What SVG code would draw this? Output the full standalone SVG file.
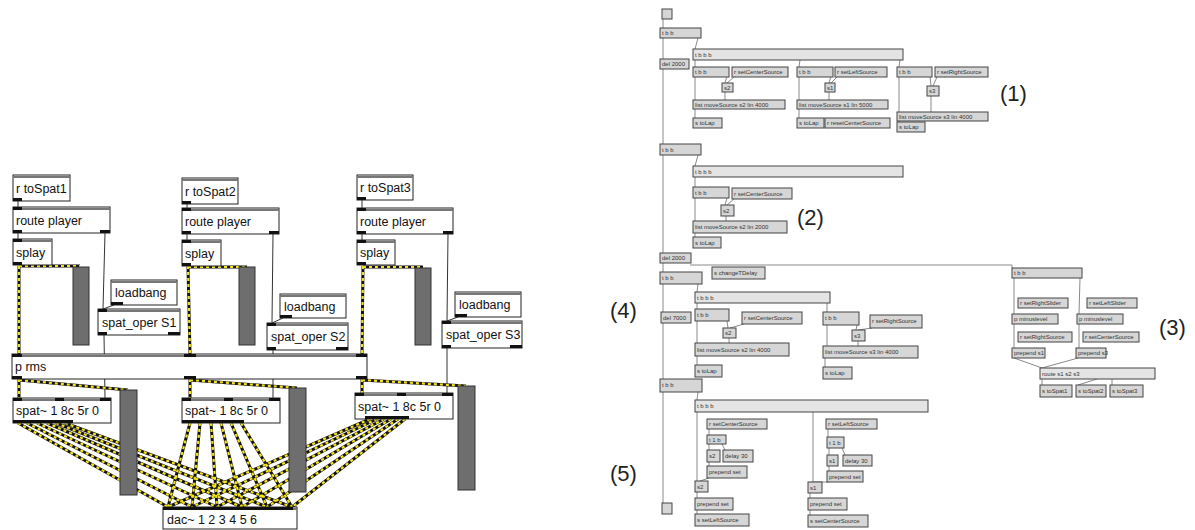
<svg xmlns="http://www.w3.org/2000/svg" width="1195" height="530" viewBox="0 0 1195 530">
<style>
.mx rect.b{fill:#fff;stroke:#222;stroke-width:1}
.mx line.t{stroke:#777;stroke-width:2}
.io{fill:#111}
.mx text{font-family:"Liberation Sans",Arial,sans-serif;font-size:12.5px;fill:#111}
.bar{fill:#6e6e6e;stroke:#333;stroke-width:1}
.sb{fill:none;stroke:#111;stroke-width:3}
.sy{fill:none;stroke:#f5e31a;stroke-width:2.2;stroke-dasharray:3 3}
.cl{fill:none;stroke:#333;stroke-width:1}
.rc{fill:none;stroke:#8a8a8a;stroke-width:1}
.rb rect{fill:#d6d6d6;stroke:#444;stroke-width:1}
.rb rect.w{fill:#e4e4e4}
.rb text{font-family:"Liberation Sans",Arial,sans-serif;font-size:6px;fill:#333}
.lab{font-family:"Liberation Sans",Arial,sans-serif;font-size:22px;fill:#222}
</style>
<rect width="1195" height="530" fill="#fff"/>

<!-- connectors -->
<g id="connectors">
 <path class="cl" d="M18 201V207 M18 233V239 M105 233L103 309 M114 305L103 309 M104 335L105 398"/>
 <path class="cl" d="M187 204V208 M187 234V240 M273 234L272 323 M283 318L272 323 M273 350V398"/>
 <path class="cl" d="M362 200V208 M362 234V240 M448 234L447 321 M458 317L447 321 M447 348V393"/>
 <g id="sig">
  <path class="sb" d="M19 266V354 M19 266H80 M188 266L190 354 M188 267H247 M363 266L362 354 M363 267H423 M19 379V398 M19 380L128 390 M190 379V398 M190 380L297 388 M362 379V393 M362 380L466 386"/>
  <path class="sb" d="M18 423L168 507 M27 423L192 507 M37 423L217 507 M47 423L242 507 M56 423L267 507 M65 423L292 507"/>
  <path class="sb" d="M190 423L168 507 M200 423L192 507 M211 423L217 507 M221 423L242 507 M231 423L267 507 M241 423L292 507"/>
  <path class="sb" d="M370 419L168 507 M377 419L192 507 M384 419L217 507 M391 419L242 507 M398 419L267 507 M405 419L292 507"/>
  <path class="sy" d="M19 266V354 M19 266H80 M188 266L190 354 M188 267H247 M363 266L362 354 M363 267H423 M19 379V398 M19 380L128 390 M190 379V398 M190 380L297 388 M362 379V393 M362 380L466 386"/>
  <path class="sy" d="M18 423L168 507 M27 423L192 507 M37 423L217 507 M47 423L242 507 M56 423L267 507 M65 423L292 507"/>
  <path class="sy" d="M190 423L168 507 M200 423L192 507 M211 423L217 507 M221 423L242 507 M231 423L267 507 M241 423L292 507"/>
  <path class="sy" d="M370 419L168 507 M377 419L192 507 M384 419L217 507 M391 419L242 507 M398 419L267 507 M405 419L292 507"/>
 </g>
 <path class="rc" d="M663 19V503"/>
 <path class="rc" d="M698 38L695 49 M695 60V67 M800 60L799 67 M900 60L899 67 M695 76V100 M727 76L725 83 M734 77L727 83 M725 92L725 100 M695 109V118 M799 76V100 M831 76L829 83 M837 77L831 83 M829 92V100 M799 109V118 M899 76V112 M930 76L931 86 M937 77L933 86 M931 96V112 M899 121V122"/>
 <path class="rc" d="M698 155L695 166 M695 177V187 M695 198V221 M727 198L725 205 M734 199L727 205 M726 216V221 M695 233V237"/>
 <path class="rc" d="M690 265H1012V268 M698 284L697 292 M697 303V309 M827 303V312 M697 321V343 M727 321L728 328 M744 324L730 328 M729 338V343 M697 356V365 M827 325V346 M857 325L856 330 M872 328L858 330 M858 341V346 M825 358V367 M698 392L697 400 M697 412V481 M813 412V482"/>
 <path class="rc" d="M709 429V435 M709 444V450 M722 444L725 450 M709 462V466 M709 478L700 481 M697 492V498 M697 510V514 M828 429V437 M829 448V455 M842 448L845 455 M829 466V471 M829 482L811 482 M810 493V498 M810 510V515"/>
 <path class="rc" d="M1014 278V314 M1080 278L1079 314 M1014 324V348 M1079 324V348 M1014 358L1042 368 M1078 358L1042 368 M1042 379V385 M1097 379L1078 385 M1112 379V385"/>
</g>

<g class="mx">
 <g id="rtoSpat1"><rect class="b" x="13" y="175" width="57" height="26"/><line class="t" x1="13" y1="177" x2="70" y2="177"/><rect class="io" x="13" y="198" width="9" height="3"/><text x="16" y="193">r toSpat1</text></g>
 <g id="route1"><rect class="b" x="13" y="207" width="97" height="26"/><line class="t" x1="13" y1="209" x2="110" y2="209"/><rect class="io" x="13" y="207" width="9" height="3"/><rect class="io" x="13" y="230" width="9" height="3"/><rect class="io" x="100" y="230" width="10" height="3"/><text x="16" y="225">route player</text></g>
 <g id="splay1"><rect class="b" x="13" y="239" width="39" height="26"/><line class="t" x1="13" y1="241" x2="52" y2="241"/><rect class="io" x="13" y="239" width="9" height="3"/><rect class="io" x="13" y="262" width="9" height="3"/><text x="16" y="257">splay</text></g>
 <g id="bar1a"><rect class="bar" x="73" y="267" width="16" height="78"/></g>
 <g id="loadbang1"><rect class="b" x="111" y="280" width="66" height="25"/><line class="t" x1="111" y1="282" x2="177" y2="282"/><rect class="io" x="111" y="302" width="12" height="3"/><text x="115" y="297">loadbang</text></g>
 <g id="spatoper1"><rect class="b" x="98" y="309" width="82" height="26"/><line class="t" x1="98" y1="311" x2="180" y2="311"/><rect class="io" x="98" y="309" width="9" height="3"/><rect class="io" x="98" y="332" width="9" height="3"/><rect class="io" x="168" y="332" width="12" height="3"/><text x="102" y="327">spat_oper S1</text></g>

 <g id="rtoSpat2"><rect class="b" x="182" y="178" width="56" height="26"/><line class="t" x1="182" y1="180" x2="238" y2="180"/><rect class="io" x="182" y="201" width="9" height="3"/><text x="185" y="196">r toSpat2</text></g>
 <g id="route2"><rect class="b" x="182" y="208" width="97" height="26"/><line class="t" x1="182" y1="210" x2="279" y2="210"/><rect class="io" x="182" y="208" width="9" height="3"/><rect class="io" x="182" y="231" width="9" height="3"/><rect class="io" x="269" y="231" width="10" height="3"/><text x="185" y="226">route player</text></g>
 <g id="splay2"><rect class="b" x="182" y="240" width="39" height="26"/><line class="t" x1="182" y1="242" x2="221" y2="242"/><rect class="io" x="182" y="240" width="9" height="3"/><rect class="io" x="182" y="263" width="9" height="3"/><text x="185" y="258">splay</text></g>
 <g id="bar2a"><rect class="bar" x="239" y="267" width="16" height="78"/></g>
 <g id="loadbang2"><rect class="b" x="280" y="294" width="66" height="24"/><line class="t" x1="280" y1="296" x2="346" y2="296"/><rect class="io" x="280" y="315" width="12" height="3"/><text x="284" y="311">loadbang</text></g>
 <g id="spatoper2"><rect class="b" x="267" y="323" width="81" height="27"/><line class="t" x1="267" y1="325" x2="348" y2="325"/><rect class="io" x="267" y="323" width="9" height="3"/><rect class="io" x="267" y="347" width="9" height="3"/><rect class="io" x="336" y="347" width="12" height="3"/><text x="271" y="341">spat_oper S2</text></g>

 <g id="rtoSpat3"><rect class="b" x="357" y="175" width="56" height="25"/><line class="t" x1="357" y1="177" x2="413" y2="177"/><rect class="io" x="357" y="197" width="9" height="3"/><text x="360" y="192">r toSpat3</text></g>
 <g id="route3"><rect class="b" x="357" y="208" width="96" height="26"/><line class="t" x1="357" y1="210" x2="453" y2="210"/><rect class="io" x="357" y="208" width="9" height="3"/><rect class="io" x="357" y="231" width="9" height="3"/><rect class="io" x="443" y="231" width="10" height="3"/><text x="360" y="226">route player</text></g>
 <g id="splay3"><rect class="b" x="357" y="240" width="38" height="25"/><line class="t" x1="357" y1="242" x2="395" y2="242"/><rect class="io" x="357" y="240" width="9" height="3"/><rect class="io" x="357" y="262" width="9" height="3"/><text x="360" y="257">splay</text></g>
 <g id="bar3a"><rect class="bar" x="415" y="268" width="16" height="77"/></g>
 <g id="loadbang3"><rect class="b" x="455" y="292" width="66" height="25"/><line class="t" x1="455" y1="294" x2="521" y2="294"/><rect class="io" x="455" y="314" width="12" height="3"/><text x="459" y="309">loadbang</text></g>
 <g id="spatoper3"><rect class="b" x="442" y="321" width="80" height="27"/><line class="t" x1="442" y1="323" x2="522" y2="323"/><rect class="io" x="442" y="321" width="9" height="3"/><rect class="io" x="442" y="345" width="9" height="3"/><rect class="io" x="510" y="345" width="12" height="3"/><text x="446" y="339">spat_oper S3</text></g>

 <g id="prms"><rect class="b" x="12" y="354" width="355" height="25"/><line class="t" x1="12" y1="356" x2="367" y2="356"/><rect class="io" x="12" y="354" width="10" height="3"/><rect class="io" x="184" y="354" width="12" height="3"/><rect class="io" x="356" y="354" width="11" height="3"/><rect class="io" x="12" y="376" width="10" height="3"/><rect class="io" x="184" y="376" width="12" height="3"/><rect class="io" x="356" y="376" width="11" height="3"/><text x="15" y="371">p rms</text></g>

 <g id="spat1"><rect class="b" x="13" y="398" width="98" height="25"/><line class="t" x1="13" y1="400" x2="111" y2="400"/><rect class="io" x="13" y="398" width="9" height="3"/><rect class="io" x="55" y="398" width="9" height="3"/><rect class="io" x="100" y="398" width="11" height="3"/><rect class="io" x="13" y="420" width="60" height="3"/><text x="16" y="415">spat~ 1 8c 5r 0</text></g>
 <g id="spat2"><rect class="b" x="182" y="398" width="98" height="25"/><line class="t" x1="182" y1="400" x2="280" y2="400"/><rect class="io" x="182" y="398" width="9" height="3"/><rect class="io" x="224" y="398" width="9" height="3"/><rect class="io" x="269" y="398" width="11" height="3"/><rect class="io" x="182" y="420" width="62" height="3"/><text x="185" y="415">spat~ 1 8c 5r 0</text></g>
 <g id="spat3"><rect class="b" x="355" y="393" width="98" height="26"/><line class="t" x1="355" y1="395" x2="453" y2="395"/><rect class="io" x="355" y="393" width="9" height="3"/><rect class="io" x="397" y="393" width="9" height="3"/><rect class="io" x="442" y="393" width="11" height="3"/><rect class="io" x="365" y="416" width="44" height="3"/><text x="358" y="411">spat~ 1 8c 5r 0</text></g>

 <g id="bar1b"><rect class="bar" x="120" y="390" width="17" height="105"/></g>
 <g id="bar2b"><rect class="bar" x="289" y="388" width="17" height="104"/></g>
 <g id="bar3b"><rect class="bar" x="458" y="386" width="17" height="104"/></g>

 <g id="dac"><rect class="b" x="163" y="507" width="134" height="22"/><line class="t" x1="163" y1="509" x2="297" y2="509"/><rect class="io" x="163" y="507" width="130" height="3"/><text x="167" y="524">dac~ 1 2 3 4 5 6</text></g>
</g>

<g class="rb">
 <g id="bangTop"><rect x="662" y="9" width="10" height="10" fill="#eee"/></g>
 <g id="r_tbb1"><rect x="660" y="28" width="41" height="10"/><text x="662" y="35">t b b</text></g>
 <g id="r_del1"><rect x="660" y="59" width="29" height="10"/><text x="662" y="66">del 2000</text></g>
 <g id="r_tbbb1"><rect class="w" x="693" y="49" width="210" height="11"/><text x="695" y="57">t b b b</text></g>
 <g id="r_a1"><rect x="693" y="67" width="36" height="10"/><text x="695" y="74">t b b</text></g>
 <g id="r_a2"><rect x="732" y="67" width="56" height="10"/><text x="734" y="74">r setCenterSource</text></g>
 <g id="r_a3"><rect x="722" y="83" width="11" height="9"/><text x="724" y="90">s2</text></g>
 <g id="r_a4"><rect x="693" y="100" width="92" height="9"/><text x="695" y="107">list moveSource s2 lin 4000</text></g>
 <g id="r_a5"><rect x="693" y="118" width="29" height="10"/><text x="695" y="125">s toLap</text></g>
 <g id="r_b1"><rect x="797" y="67" width="36" height="10"/><text x="799" y="74">t b b</text></g>
 <g id="r_b2"><rect x="835" y="67" width="52" height="10"/><text x="837" y="74">r setLeftSource</text></g>
 <g id="r_b3"><rect x="825" y="83" width="10" height="9"/><text x="827" y="90">s1</text></g>
 <g id="r_b4"><rect x="797" y="100" width="91" height="9"/><text x="799" y="107">list moveSource s1 lin 5000</text></g>
 <g id="r_b5"><rect x="797" y="118" width="27" height="10"/><text x="799" y="125">s toLap</text></g>
 <g id="r_b6"><rect x="825" y="118" width="65" height="10"/><text x="827" y="125">r resetCenterSource</text></g>
 <g id="r_c1"><rect x="897" y="67" width="35" height="10"/><text x="899" y="74">t b b</text></g>
 <g id="r_c2"><rect x="935" y="67" width="53" height="10"/><text x="937" y="74">r setRightSource</text></g>
 <g id="r_c3"><rect x="927" y="86" width="12" height="10"/><text x="929" y="93">s3</text></g>
 <g id="r_c4"><rect x="897" y="112" width="91" height="9"/><text x="899" y="119">list moveSource s3 lin 4000</text></g>
 <g id="r_c5"><rect x="897" y="122" width="28" height="10"/><text x="899" y="129">s toLap</text></g>

 <g id="r_tbb2"><rect x="660" y="144" width="41" height="11"/><text x="662" y="152">t b b</text></g>
 <g id="r_tbbb2"><rect class="w" x="693" y="166" width="210" height="11"/><text x="695" y="174">t b b b</text></g>
 <g id="r_d1"><rect x="693" y="187" width="36" height="11"/><text x="695" y="195">t b b</text></g>
 <g id="r_d2"><rect x="732" y="188" width="60" height="11"/><text x="734" y="196">r setCenterSource</text></g>
 <g id="r_d3"><rect x="721" y="205" width="13" height="11"/><text x="723" y="213">s2</text></g>
 <g id="r_d4"><rect x="693" y="221" width="94" height="12"/><text x="695" y="229">list moveSource s2 lin 2000</text></g>
 <g id="r_d5"><rect x="693" y="237" width="28" height="11"/><text x="695" y="245">s toLap</text></g>
 <g id="r_del2"><rect x="660" y="253" width="31" height="10"/><text x="662" y="260">del 2000</text></g>

 <g id="r_tbb4"><rect x="660" y="272" width="42" height="12"/><text x="662" y="280">t b b</text></g>
 <g id="r_sch"><rect x="712" y="267" width="53" height="12"/><text x="714" y="275">s changeTDelay</text></g>
 <g id="r_tbbb4"><rect class="w" x="695" y="292" width="135" height="11"/><text x="697" y="300">t b b b</text></g>
 <g id="r_del4"><rect x="661" y="312" width="30" height="11"/><text x="663" y="320">del 7000</text></g>
 <g id="r_e1"><rect x="695" y="309" width="34" height="12"/><text x="697" y="317">t b b</text></g>
 <g id="r_e2"><rect x="742" y="312" width="60" height="12"/><text x="744" y="320">r setCenterSource</text></g>
 <g id="r_e3"><rect x="723" y="328" width="13" height="10"/><text x="725" y="335">s2</text></g>
 <g id="r_e4"><rect x="695" y="343" width="94" height="13"/><text x="697" y="352">list moveSource s2 lin 4000</text></g>
 <g id="r_e5"><rect x="695" y="365" width="27" height="12"/><text x="697" y="373">s toLap</text></g>
 <g id="r_f1"><rect x="823" y="312" width="36" height="13"/><text x="825" y="320">t b b</text></g>
 <g id="r_f2"><rect x="870" y="315" width="52" height="13"/><text x="872" y="323">r setRightSource</text></g>
 <g id="r_f3"><rect x="852" y="330" width="13" height="11"/><text x="854" y="338">s3</text></g>
 <g id="r_f4"><rect x="823" y="346" width="95" height="12"/><text x="825" y="354">list moveSource s3 lin 4000</text></g>
 <g id="r_f5"><rect x="823" y="367" width="29" height="12"/><text x="825" y="375">s toLap</text></g>

 <g id="r_tbb5"><rect x="660" y="379" width="42" height="13"/><text x="662" y="387">t b b</text></g>
 <g id="r_tbbb5"><rect class="w" x="695" y="400" width="233" height="12"/><text x="697" y="408">t b b b</text></g>
 <g id="r_g1"><rect x="707" y="419" width="60" height="10"/><text x="709" y="426">r setCenterSource</text></g>
 <g id="r_g2"><rect x="707" y="435" width="19" height="9"/><text x="709" y="442">t 1 b</text></g>
 <g id="r_g3"><rect x="707" y="450" width="13" height="12"/><text x="709" y="458">s2</text></g>
 <g id="r_g4"><rect x="723" y="450" width="30" height="12"/><text x="725" y="458">delay 30</text></g>
 <g id="r_g5"><rect x="707" y="466" width="40" height="12"/><text x="709" y="474">prepend set</text></g>
 <g id="r_g6"><rect x="695" y="481" width="13" height="11"/><text x="697" y="489">s2</text></g>
 <g id="r_g7"><rect x="695" y="498" width="38" height="12"/><text x="697" y="506">prepend set</text></g>
 <g id="r_g8"><rect x="695" y="514" width="54" height="12"/><text x="697" y="522">s setLeftSource</text></g>
 <g id="r_h1"><rect x="826" y="419" width="51" height="10"/><text x="828" y="426">r setLeftSource</text></g>
 <g id="r_h2"><rect x="827" y="437" width="17" height="11"/><text x="829" y="445">t 1 b</text></g>
 <g id="r_h3"><rect x="827" y="455" width="11" height="11"/><text x="829" y="463">s1</text></g>
 <g id="r_h4"><rect x="843" y="455" width="29" height="11"/><text x="845" y="463">delay 30</text></g>
 <g id="r_h5"><rect x="827" y="471" width="36" height="11"/><text x="829" y="479">prepend set</text></g>
 <g id="r_h6"><rect x="808" y="482" width="14" height="11"/><text x="810" y="490">s1</text></g>
 <g id="r_h7"><rect x="808" y="498" width="39" height="12"/><text x="810" y="506">prepend set</text></g>
 <g id="r_h8"><rect x="808" y="515" width="60" height="12"/><text x="810" y="523">s setCenterSource</text></g>
 <g id="bangBottom"><rect x="662" y="503" width="10" height="11" fill="#eee"/></g>

 <g id="r_tbb3"><rect x="1012" y="268" width="70" height="10"/><text x="1014" y="275">t b b</text></g>
 <g id="r_i1"><rect x="1018" y="298" width="50" height="10"/><text x="1020" y="305">r setRightSlider</text></g>
 <g id="r_i2"><rect x="1087" y="298" width="50" height="10"/><text x="1089" y="305">r setLeftSlider</text></g>
 <g id="r_i3"><rect x="1012" y="314" width="46" height="10"/><text x="1014" y="321">p minuslevel</text></g>
 <g id="r_i4"><rect x="1077" y="314" width="46" height="10"/><text x="1079" y="321">p minuslevel</text></g>
 <g id="r_i5"><rect x="1018" y="332" width="54" height="10"/><text x="1020" y="339">r setRightSource</text></g>
 <g id="r_i6"><rect x="1083" y="332" width="56" height="10"/><text x="1085" y="339">r setCenterSource</text></g>
 <g id="r_i7"><rect x="1012" y="348" width="33" height="10"/><text x="1014" y="355">prepend s1</text></g>
 <g id="r_i8"><rect x="1076" y="348" width="30" height="10"/><text x="1078" y="355">prepend s3</text></g>
 <g id="r_route"><rect class="w" x="1040" y="368" width="115" height="11"/><text x="1042" y="376">route s1 s2 s3</text></g>
 <g id="r_s1"><rect x="1040" y="385" width="32" height="12"/><text x="1042" y="393">s toSpat1</text></g>
 <g id="r_s2"><rect x="1076" y="385" width="30" height="12"/><text x="1078" y="393">s toSpat2</text></g>
 <g id="r_s3"><rect x="1110" y="385" width="33" height="12"/><text x="1112" y="393">s toSpat3</text></g>
</g>

<g id="labels">
 <text class="lab" x="1000" y="101">(1)</text>
 <text class="lab" x="797" y="225">(2)</text>
 <text class="lab" x="1159" y="335">(3)</text>
 <text class="lab" x="610" y="318">(4)</text>
 <text class="lab" x="610" y="481">(5)</text>
</g>
</svg>
